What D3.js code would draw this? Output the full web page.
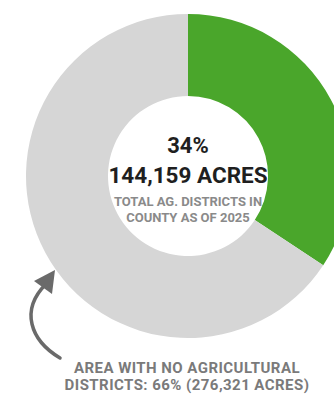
<!DOCTYPE html>
<html>
<head>
<meta charset="utf-8">
<script src="https://cdn.jsdelivr.net/npm/d3@7"></script>
<style>
  html, body { margin: 0; padding: 0; background: #fff; }
  svg { display: block; font-family: Roboto, "Liberation Sans", sans-serif; }
</style>
</head>
<body>
<svg id="chart"></svg>
<script>
const width = 334;
const height = 394;

// data
const categories = ['Agricultural districts', 'No agricultural districts'];
const acres = [144159, 276321];
const sliceColours = ['#4aa62b', '#d6d6d6'];

const centerLines = ['34%', '144,159 ACRES'];
const subLines = ['TOTAL AG. DISTRICTS IN', 'COUNTY AS OF 2025'];
const noteLines = ['AREA WITH NO AGRICULTURAL', 'DISTRICTS: 66% (276,321 ACRES)'];

const cx = 188, cy = 176;
const outerR = 162, innerR = 80;

const svg = d3.select('#chart')
    .attr('width', width)
    .attr('height', height);

const slices = categories.map((c, i) => ({name: c, value: acres[i]}));

const pie = d3.pie()
    .sort(null)
    .value(d => d.value);

const arc = d3.arc()
    .innerRadius(innerR)
    .outerRadius(outerR);

const colour = d3.scaleOrdinal()
    .domain(categories)
    .range(sliceColours);

svg.append('g')
    .attr('transform', `translate(${cx},${cy})`)
  .selectAll('path')
  .data(pie(slices))
  .join('path')
    .attr('d', arc)
    .attr('fill', d => colour(d.data.name));

// centre labels
svg.append('text')
    .attr('x', cx).attr('y', 153)
    .attr('text-anchor', 'middle')
    .attr('font-size', 22).attr('font-weight', 700)
    .attr('fill', '#1f1f1f')
    .text(centerLines[0]);

svg.append('text')
    .attr('x', cx).attr('y', 183)
    .attr('text-anchor', 'middle')
    .attr('font-size', 22.5).attr('font-weight', 700)
    .attr('fill', '#1f1f1f')
    .text(centerLines[1]);

svg.append('g')
  .selectAll('text')
  .data(subLines)
  .join('text')
    .attr('x', cx)
    .attr('y', (d, i) => 206 + i * 16)
    .attr('text-anchor', 'middle')
    .attr('font-size', 13).attr('font-weight', 700)
    .attr('fill', '#8a8a8a')
    .text(d => d);

// annotation
svg.append('g')
  .selectAll('text')
  .data(noteLines)
  .join('text')
    .attr('x', 187)
    .attr('y', (d, i) => 373 + i * 17)
    .attr('text-anchor', 'middle')
    .attr('font-size', 15).attr('font-weight', 700)
    .attr('letter-spacing', 0.45)
    .attr('fill', '#7a7a7a')
    .text(d => d);

svg.append('path')
    .attr('d', 'M60,358 C30,340 20,310 46,284')
    .attr('fill', 'none')
    .attr('stroke', '#6a6a6a')
    .attr('stroke-width', 3.5)
    .attr('stroke-linecap', 'round');

svg.append('path')
    .attr('d', 'M55,270 L34,281 L52,294 Z')
    .attr('fill', '#6a6a6a');
</script>
</body>
</html>
